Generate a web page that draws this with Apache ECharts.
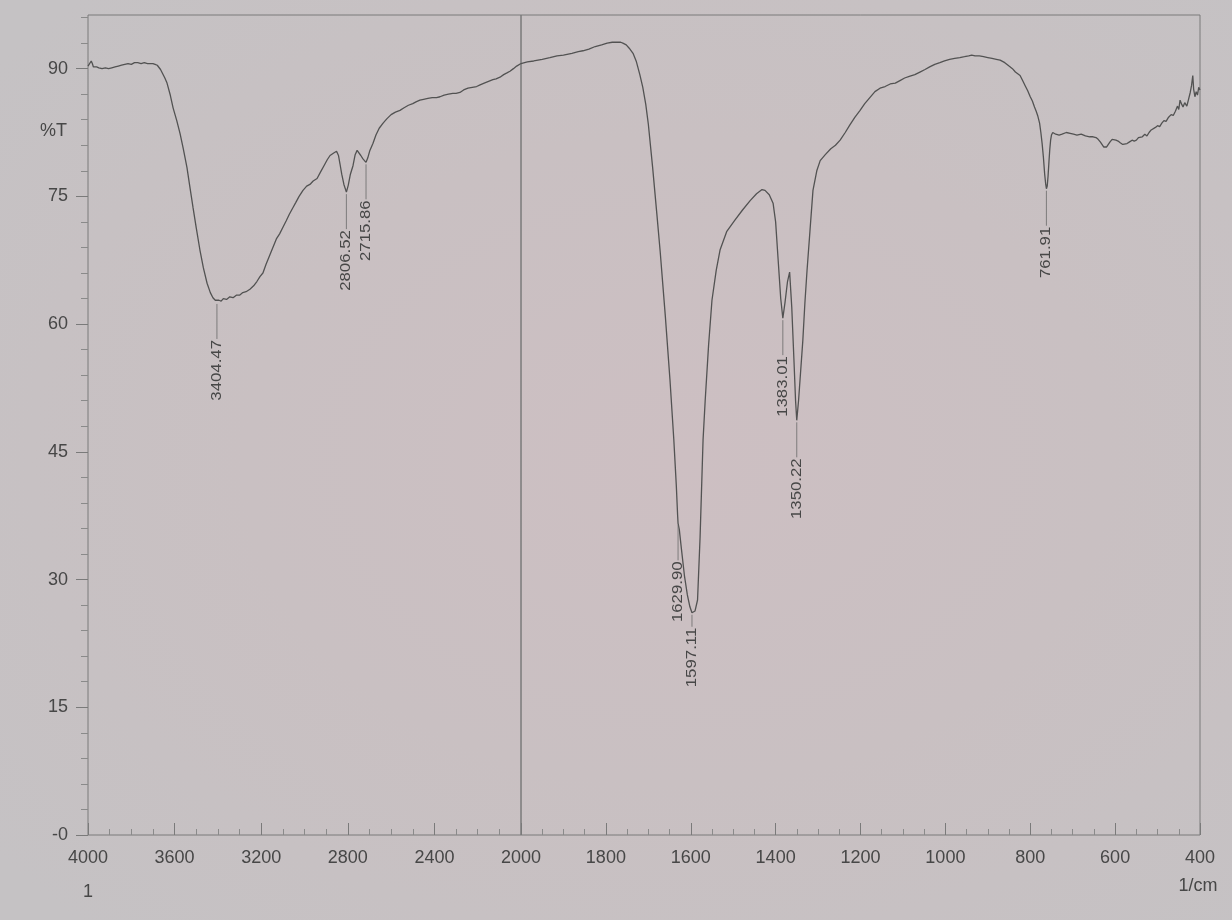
<!DOCTYPE html>
<html>
<head>
<meta charset="utf-8">
<script src="https://cdn.jsdelivr.net/npm/echarts@6/dist/echarts.min.js"></script>
<style>
  html, body { margin: 0; padding: 0; }
  #chart {
    width: 1232px; height: 920px;
    background: radial-gradient(ellipse 70% 70% at 55% 50%, #cdbfc2 0%, #c9c0c2 50%, #c5c2c4 100%);
  }
</style>
</head>
<body>
<div id="chart"></div>
<script>
// IR spectrum, high-wavenumber part (4000–2000 1/cm, compressed scale)
const wnHigh = [4000,3992,3985,3980,3975,3968,3960,3950,3935,3920,3905,3890,3875,3860,3845,3830,3815,3800,3785,3770,3755,3740,3725,3710,3700,3690,3680,3672,3665,3655,3645,3635,3620,3607,3590,3575,3560,3543,3530,3515,3500,3483,3467,3450,3435,3423,3412,3404.47,3395,3385,3375,3360,3345,3330,3315,3300,3285,3270,3252,3235,3220,3205,3192,3178,3162,3146,3130,3115,3099,3085,3070,3053,3040,3025,3007,2990,2975,2960,2942,2925,2910,2895,2882,2865,2852,2843,2836,2828,2818,2806.52,2798,2788,2776,2766,2757,2748,2740,2730,2722,2715.86,2708,2698,2684,2670,2655,2637,2620,2600,2580,2559,2540,2520,2500,2485,2467,2450,2430,2410,2390,2374,2355,2335,2315,2300,2282,2265,2245,2225,2205,2189,2170,2150,2130,2115,2097,2080,2065,2051,2035,2020,2000];
const tHigh = [90.3,90.5,90.9,90.6,90.2,90.4,90.2,90.1,90.0,90.1,90.0,90.1,90.2,90.3,90.4,90.5,90.6,90.5,90.7,90.7,90.6,90.7,90.6,90.6,90.6,90.5,90.4,90.2,89.9,89.4,88.9,88.3,86.9,85.4,83.9,82.4,80.6,78.4,76.2,73.7,71.3,68.7,66.6,64.8,63.7,63.1,62.8,62.6,62.8,62.7,63.0,62.9,63.2,63.1,63.4,63.4,63.7,63.8,64.1,64.5,65.0,65.6,66.0,67.0,68.0,69.0,70.0,70.6,71.4,72.1,72.9,73.7,74.3,75.0,75.7,76.2,76.4,76.8,77.1,77.9,78.6,79.3,79.8,80.1,80.3,79.8,78.8,77.6,76.4,75.5,76.3,77.6,78.6,79.9,80.4,80.2,79.8,79.4,79.2,79.0,79.5,80.4,81.2,82.2,83.0,83.6,84.1,84.6,84.9,85.1,85.4,85.7,85.9,86.1,86.3,86.4,86.5,86.6,86.6,86.7,86.9,87.0,87.1,87.1,87.2,87.5,87.7,87.8,87.9,88.1,88.3,88.5,88.7,88.8,89.0,89.3,89.5,89.7,90.0,90.3,90.6];

// IR spectrum, low-wavenumber part (2000–400 1/cm, expanded scale)
const wnLow = [2000,1985,1970,1950,1932,1915,1900,1880,1865,1854,1840,1825,1810,1797,1785,1775,1765,1760,1752,1745,1736,1728,1720,1713,1706,1700,1690,1680,1672,1660,1649,1640,1634,1631,1629.90,1627,1622,1615,1608,1602,1597.11,1590,1584,1578,1571,1566,1558,1550,1540,1531,1515,1496,1478,1460,1445,1432,1425,1415,1406,1400,1394,1388,1383.01,1378,1372,1367,1362,1357,1353,1350.22,1346,1341,1336,1331,1326,1319,1312,1303,1295,1283,1270,1259,1248,1236,1225,1213,1201,1190,1178,1166,1154,1142,1130,1118,1107,1096,1085,1072,1060,1048,1037,1025,1013,1002,990,978,966,955,945,938,930,920,910,900,890,880,871,860,850,842,835,824,818,812,806,800,795,790,786,782,778,775,772,769,766,763.5,761.91,760,758,756,754,752,750,747,744,740,737,732,725,715,706,698,690,680,670,660,652,645,640,635,631,627,624,620,616,612,607,603,598,593,588,582,578,572,566,560,555,550,545,541,536,530,525,520,515,511,505,500,495,490,485,480,474,468,463,458,453,450,447,443,440,436,431,427,423,420,417,415,412,409,406,403,400];
const tLow = [90.6,90.8,90.9,91.1,91.3,91.5,91.6,91.8,92.0,92.1,92.3,92.6,92.8,93.0,93.1,93.1,93.1,93.0,92.8,92.4,91.8,90.8,89.3,87.8,85.8,83.5,78.5,73.0,68.5,61.0,53.5,46.5,41.0,37.6,36.6,35.9,33.6,30.5,28.2,26.8,26.1,26.3,27.6,35.0,46.4,51.0,57.5,62.8,66.3,68.7,70.9,72.2,73.4,74.5,75.3,75.8,75.7,75.2,74.2,72.0,67.5,63.0,60.7,62.5,65.0,66.1,62.0,56.0,51.0,48.7,51.0,54.5,58.0,62.5,66.3,71.0,75.7,78.0,79.2,79.9,80.6,81.0,81.6,82.5,83.4,84.3,85.1,85.9,86.6,87.3,87.7,87.9,88.2,88.3,88.6,88.9,89.1,89.3,89.6,89.9,90.2,90.5,90.7,90.9,91.1,91.2,91.3,91.4,91.5,91.6,91.5,91.5,91.4,91.3,91.2,91.1,91.0,90.7,90.3,90.0,89.6,89.2,88.6,88.0,87.4,86.7,86.2,85.5,85.0,84.4,83.6,82.5,81.2,79.6,77.6,76.4,75.9,76.2,77.4,79.0,80.5,81.6,82.2,82.5,82.6,82.3,82.1,82.2,82.3,82.5,82.4,82.3,82.2,82.3,82.1,82.0,82.0,81.9,81.7,81.4,81.2,80.8,80.6,80.8,81.1,81.4,81.7,81.9,81.6,81.5,81.3,81.1,81.1,81.2,81.4,81.6,81.5,81.6,81.9,81.8,82.0,82.3,82.1,82.5,82.8,82.7,83.1,83.3,83.2,83.6,83.9,83.8,84.3,84.6,84.5,85.0,85.6,85.2,86.3,85.8,85.5,86.0,85.6,86.4,87.2,88.0,89.2,87.6,86.7,87.3,86.9,87.8,87.5];

// Labelled absorption bands (1/cm)
const peaksHigh = [3404.47, 2806.52, 2715.86];
const peaksLow = [1629.90, 1597.11, 1383.01, 1350.22, 761.91];

// Axis ticks
const yTicks = [0, 15, 30, 45, 60, 75, 90];
const xStepHigh = 400;
const xStepLow = 200;

const zip = (xs, ys) => xs.map((x, i) => [x, ys[i]]);

const INK = '#474747';
const AXIS = '#7a7a7a';
const FONT = '"Liberation Sans", Arial, sans-serif';

function peakSeries(peaks, wns, ts, idx) {
  return {
    type: 'custom',
    xAxisIndex: idx,
    yAxisIndex: idx,
    clip: false,
    silent: true,
    z: 5,
    data: peaks.map(w => [w, ts[wns.indexOf(w)]]),
    renderItem: function (params, api) {
      const w = api.value(0);
      const p = api.coord([w, api.value(1)]);
      const gap = (w === 1597.11) ? 14 : 37;
      return {
        type: 'group',
        children: [
          {
            type: 'line',
            shape: { x1: p[0], y1: p[1] + 2, x2: p[0], y2: p[1] + gap },
            style: { stroke: '#6a6a6a', lineWidth: 0.8 }
          },
          {
            type: 'text',
            x: p[0],
            y: p[1] + gap + 1,
            rotation: Math.PI / 2,
            scaleX: 1.2,
            style: {
              text: w.toFixed(2),
              align: 'right',
              verticalAlign: 'middle',
              font: '14px ' + FONT,
              fill: '#474747'
            }
          }
        ]
      };
    }
  };
}

const common = {
  type: 'value',
  axisLine: { show: false },
  splitLine: { show: false }
};

const chart = echarts.init(document.getElementById('chart'), null, { renderer: 'canvas' });
chart.setOption({
  animation: false,
  backgroundColor: 'transparent',
  grid: [
    { left: 88, top: 15, width: 433, height: 820, show: true, borderColor: AXIS, borderWidth: 1, backgroundColor: 'transparent' },
    { left: 521, top: 15, width: 679, height: 820, show: true, borderColor: AXIS, borderWidth: 1, backgroundColor: 'transparent' }
  ],
  xAxis: [
    Object.assign({}, common, {
      gridIndex: 0, min: 2000, max: 4000, inverse: true, interval: xStepHigh,
      axisTick: { show: true, inside: true, length: 12, lineStyle: { color: AXIS } },
      minorTick: { show: true, splitNumber: 4, length: 6, lineStyle: { color: '#8a8a8a' } },
      axisLabel: {
        showMinLabel: false, margin: 14, fontSize: 18, fontFamily: FONT, color: INK,
        formatter: v => v === 4000 ? '4000\n{u|1}' : String(v),
        rich: { u: { fontSize: 18, fontFamily: FONT, color: INK, padding: [16, 0, 0, 0] } }
      }
    }),
    Object.assign({}, common, {
      gridIndex: 1, min: 400, max: 2000, inverse: true, interval: xStepLow,
      axisTick: { show: true, inside: true, length: 12, lineStyle: { color: AXIS } },
      minorTick: { show: true, splitNumber: 4, length: 6, lineStyle: { color: '#8a8a8a' } },
      axisLabel: { margin: 14, fontSize: 18, fontFamily: FONT, color: INK, formatter: v => String(v) }
    })
  ],
  yAxis: [
    Object.assign({}, common, {
      gridIndex: 0, min: 0, max: 96.3, interval: 15,
      axisTick: { show: true, inside: false, length: 12, customValues: yTicks, lineStyle: { color: AXIS } },
      minorTick: { show: true, splitNumber: 5, length: 7, lineStyle: { color: '#8a8a8a' } },
      axisLabel: {
        customValues: yTicks, margin: 20, fontSize: 18, fontFamily: FONT, color: INK,
        formatter: v => v === 0 ? '-0' : String(v)
      }
    }),
    Object.assign({}, common, {
      gridIndex: 1, min: 0, max: 96.3, interval: 15, show: false
    })
  ],
  graphic: [
    { type: 'text', left: 40, top: 122, style: { text: '%T', font: '18px ' + FONT, fill: INK } },
    { type: 'text', x: 1198, y: 886, style: { text: '1/cm', font: '18px ' + FONT, fill: INK, align: 'center', verticalAlign: 'middle' } }
  ],
  series: [
    {
      type: 'line', xAxisIndex: 0, yAxisIndex: 0, data: zip(wnHigh, tHigh),
      showSymbol: false, silent: true, lineStyle: { color: '#525252', width: 1.3 }
    },
    {
      type: 'line', xAxisIndex: 1, yAxisIndex: 1, data: zip(wnLow, tLow),
      showSymbol: false, silent: true, lineStyle: { color: '#525252', width: 1.3 }
    },
    peakSeries(peaksHigh, wnHigh, tHigh, 0),
    peakSeries(peaksLow, wnLow, tLow, 1)
  ]
});
</script>
</body>
</html>
